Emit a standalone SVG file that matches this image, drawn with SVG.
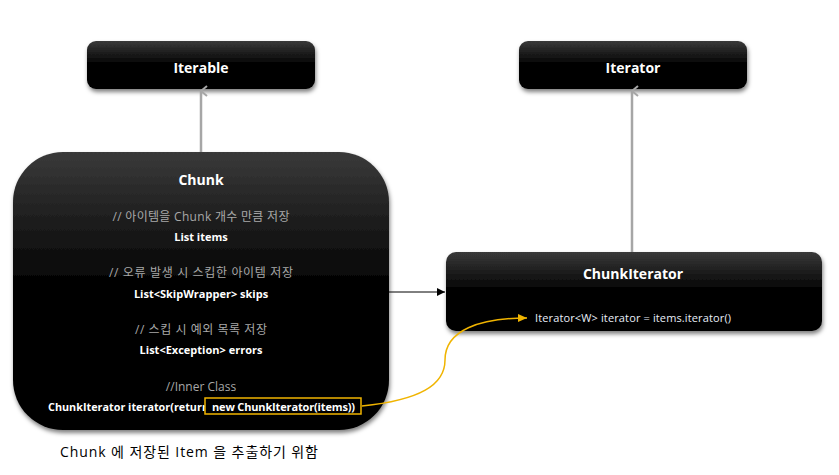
<svg xmlns="http://www.w3.org/2000/svg" width="839" height="475" viewBox="0 0 839 475">
<style>
text{font-family:"Open Sans","Noto Sans CJK KR",sans-serif;}
.t{fill:#fff;font-weight:bold;font-size:14px;text-anchor:middle;}
.c{fill:#a8a8a8;font-size:12px;text-anchor:middle;}
.b{fill:#fff;font-weight:bold;font-size:11px;text-anchor:middle;}
.n{fill:url(#g);filter:url(#sh);}
</style>
<defs>
<linearGradient id="g" x1="0" y1="0" x2="0" y2="1">
<stop offset="0" stop-color="#3a3a3a"/>
<stop offset="0.5" stop-color="#000"/>
<stop offset="1" stop-color="#000"/>
</linearGradient>
<filter id="sh" x="-10%" y="-10%" width="120%" height="130%">
<feDropShadow dx="1" dy="3" stdDeviation="2" flood-color="#000" flood-opacity="0.5"/>
</filter>
<marker id="open" markerWidth="12" markerHeight="12" refX="6" refY="1" orient="auto-start-reverse" markerUnits="userSpaceOnUse" viewBox="0 0 12 12">
<path d="M1,7 L6,1 L11,7" fill="none" stroke="#a6a6a6" stroke-width="2"/>
</marker>
<marker id="fill" markerWidth="8" markerHeight="8" refX="8" refY="4" orient="auto" markerUnits="userSpaceOnUse">
<path d="M0,0 L8,4 L0,8 Z" fill="#000"/>
</marker>
<marker id="yel" markerWidth="9" markerHeight="8" refX="9" refY="4" orient="auto" markerUnits="userSpaceOnUse">
<path d="M0,0 L9,4 L0,8 Z" fill="#f0b400"/>
</marker>
</defs>
<g id="iterable">
<rect class="n" x="87" y="41" width="228" height="48" rx="9"/>
<text class="t" x="201" y="73">Iterable</text>
</g>
<g id="iterator">
<rect class="n" x="519" y="41" width="228" height="48" rx="9"/>
<text class="t" x="633" y="73">Iterator</text>
</g>
<g id="chunk">
<rect class="n" x="13" y="152" width="376" height="278" rx="50"/>
<text class="t" x="201" y="185">Chunk</text>
<text class="c" x="201" y="221" textLength="177">// 아이템을 Chunk 개수 만큼 저장</text>
<text class="b" x="201" y="241">List items</text>
<text class="c" x="201" y="277" textLength="184">// 오류 발생 시 스킵한 아이템 저장</text>
<text class="b" x="201" y="298">List&lt;SkipWrapper&gt;  skips</text>
<text class="c" x="201" y="334" textLength="132">// 스킵 시 예외 목록 저장</text>
<text class="b" x="201" y="354">List&lt;Exception&gt;  errors</text>
<text class="c" x="201" y="391">//Inner Class</text>
<text class="b" x="48" y="411" style="text-anchor:start" textLength="161" lengthAdjust="spacingAndGlyphs">ChunkIterator iterator(return</text>
<rect x="205" y="398" width="156" height="16" fill="#000" stroke="#f0b400" stroke-width="1.5"/>
<text class="b" x="212" y="411" style="text-anchor:start" textLength="143">new ChunkIterator(items))</text>
</g>
<g id="chunkiterator">
<rect class="n" x="446" y="252" width="376" height="79" rx="10"/>
<text class="t" x="633" y="279">ChunkIterator</text>
<text x="535" y="322" style="fill:#e8eef8;font-size:11px" textLength="196">Iterator&lt;W&gt;  iterator = items.iterator()</text>
</g>
<g id="connectors">
<line x1="201" y1="152" x2="201" y2="91" stroke="#a6a6a6" stroke-width="2.5" marker-end="url(#open)"/>
<line x1="632" y1="252" x2="632" y2="91" stroke="#a6a6a6" stroke-width="2.5" marker-end="url(#open)"/>
<line x1="389" y1="292" x2="445" y2="292" stroke="#000" stroke-width="1" marker-end="url(#fill)"/>
<path d="M362,406 C420,400 445,385 445,360 C445,330 480,318 527,318" fill="none" stroke="#f0b400" stroke-width="1.5" marker-end="url(#yel)"/>
</g>
<text x="60" y="457" style="fill:#000;font-size:14px" textLength="258">Chunk 에 저장된 Item 을 추출하기 위함</text>
</svg>
